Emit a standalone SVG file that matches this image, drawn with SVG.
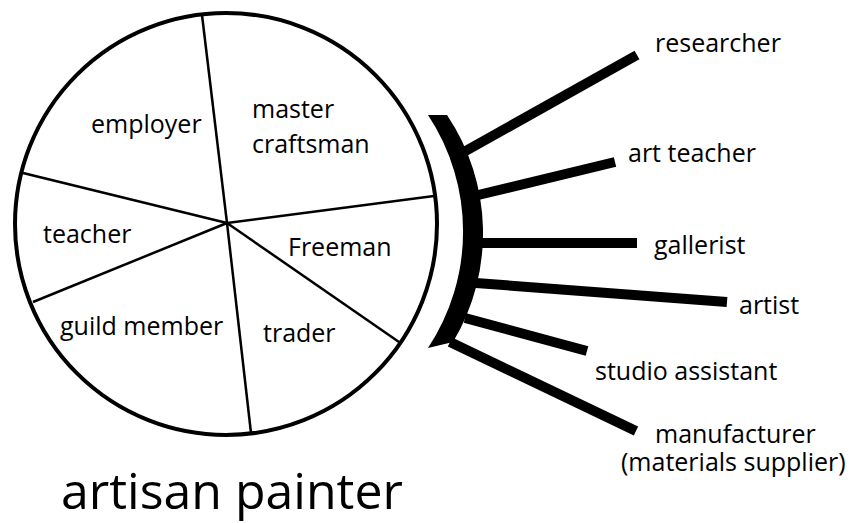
<svg xmlns="http://www.w3.org/2000/svg" width="854" height="523" viewBox="0 0 854 523">
<style>
text{font-family:"Open Sans","Noto Sans",sans-serif;font-size:25px;fill:#000}
.big{font-size:50px}
.spoke{stroke:#000;stroke-width:2.5;fill:none}
.ray{stroke:#000;stroke-width:10;stroke-linecap:butt;fill:none}
</style>
<rect width="854" height="523" fill="#fff"/>
<g id="wheel">
<circle cx="226" cy="224" r="211" fill="#fff" stroke="#000" stroke-width="4"/>
<line class="spoke" x1="227" y1="223" x2="202" y2="15"/>
<line class="spoke" x1="227" y1="223" x2="434" y2="196"/>
<line class="spoke" x1="227" y1="223" x2="399" y2="342"/>
<line class="spoke" x1="227" y1="223" x2="251" y2="433"/>
<line class="spoke" x1="227" y1="223" x2="33" y2="302"/>
<line class="spoke" x1="227" y1="223" x2="23" y2="173"/>
</g>
<g id="employer"><text x="91" y="133">employer</text></g>
<g id="master-craftsman"><text x="252" y="118">master</text><text x="252" y="153">craftsman</text></g>
<g id="teacher"><text x="43" y="243">teacher</text></g>
<g id="freeman"><text x="288" y="256">Freeman</text></g>
<g id="guild-member"><text x="60" y="335">guild member</text></g>
<g id="trader"><text x="263" y="342">trader</text></g>
<g id="bracket">
<path d="M428 115 L447 115 A212 212 0 0 1 453 342 L428 348 A211 211 0 0 0 428 115 Z" fill="#000"/>
</g>
<g id="connectors">
<line class="ray" x1="462" y1="153" x2="637" y2="55"/>
<line class="ray" x1="474" y1="196" x2="615" y2="162"/>
<line class="ray" x1="478" y1="243" x2="637" y2="243"/>
<line class="ray" x1="476" y1="283" x2="727" y2="302"/>
<line class="ray" x1="465" y1="318" x2="587" y2="351"/>
<line class="ray" x1="450" y1="342" x2="636" y2="431"/>
</g>
<g id="researcher"><text x="655" y="52">researcher</text></g>
<g id="art-teacher"><text x="628" y="162">art teacher</text></g>
<g id="gallerist"><text x="654" y="254">gallerist</text></g>
<g id="artist"><text x="739" y="314">artist</text></g>
<g id="studio-assistant"><text x="595" y="380">studio assistant</text></g>
<g id="manufacturer"><text x="655" y="443">manufacturer</text><text x="621" y="471">(materials supplier)</text></g>
<g id="title"><text class="big" x="61" y="509">artisan painter</text></g>
</svg>
